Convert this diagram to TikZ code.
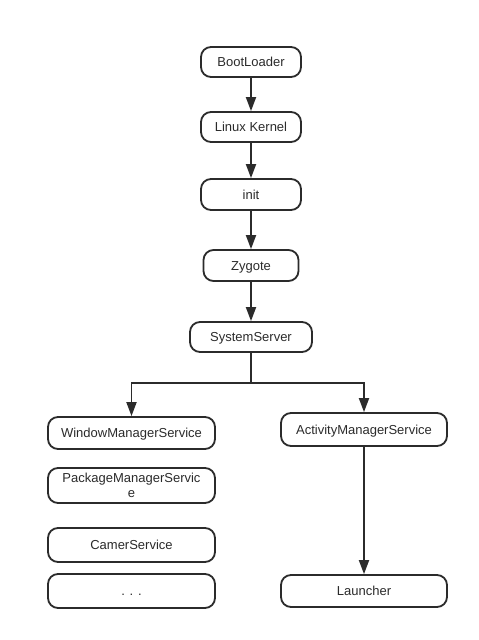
\documentclass[tikz,border=0pt]{standalone}
\usepackage{fontspec}
\setmainfont{Liberation Sans}
\usetikzlibrary{arrows.meta}
\definecolor{ink}{HTML}{2B2B2B}
\tikzset{
  box/.style={draw=ink, line width=1.8pt, rounded corners=10pt, rectangle,
    inner sep=0pt, text=ink, font=\fontsize{13}{15}\selectfont,
    text height=9.3pt, text depth=0pt},
  arr/.style={draw=ink, line width=1.8pt, -{Triangle[length=14pt,width=10pt]}},
}
\begin{document}
\begin{tikzpicture}[x=1pt,y=-1pt]
\useasboundingbox (0,0) rectangle (479,640);
\fill[white] (0,0) rectangle (479,640);
\node[box, minimum width=100pt, minimum height=30pt] (boot) at (251,62) {BootLoader};
\node[box, minimum width=100pt, minimum height=30pt] (kernel) at (251,127) {Linux Kernel};
\node[box, minimum width=100pt, minimum height=31pt] (init) at (251,194.5) {init};
\node[box, minimum width=95pt, minimum height=31pt] (zyg) at (251,265.5) {Zygote};
\node[box, minimum width=122pt, minimum height=30pt] (ss) at (251,337) {SystemServer};
\node[box, minimum width=167pt, minimum height=32pt] (wms) at (131.5,433) {WindowManagerService};
\node[box, minimum width=166pt, minimum height=33pt] (ams) at (364,429.5) {ActivityManagerService};
\node[box, minimum width=167pt, minimum height=35pt, align=center, text height=, text depth=, font=\fontsize{13}{15.5}\selectfont] (pms) at (131.5,485.5) {PackageManagerServic\\e};
\node[box, minimum width=167pt, minimum height=34pt] (cam) at (131.5,545) {CamerService};
\node[box, minimum width=167pt, minimum height=34pt] (dots) at (131.5,591) {. . .};
\node[box, minimum width=166pt, minimum height=32pt] (launch) at (364,591) {Launcher};
\coordinate (j) at (251,383);
\draw[arr] (boot) -- (kernel);
\draw[arr] (kernel) -- (init);
\draw[arr] (init) -- (zyg);
\draw[arr] (zyg) -- (ss);
\draw[arr] (ss.south) -- (j) -| (wms.north);
\draw[arr] (j) -| (ams.north);
\draw[arr] (ams) -- (launch);
\end{tikzpicture}
\end{document}
